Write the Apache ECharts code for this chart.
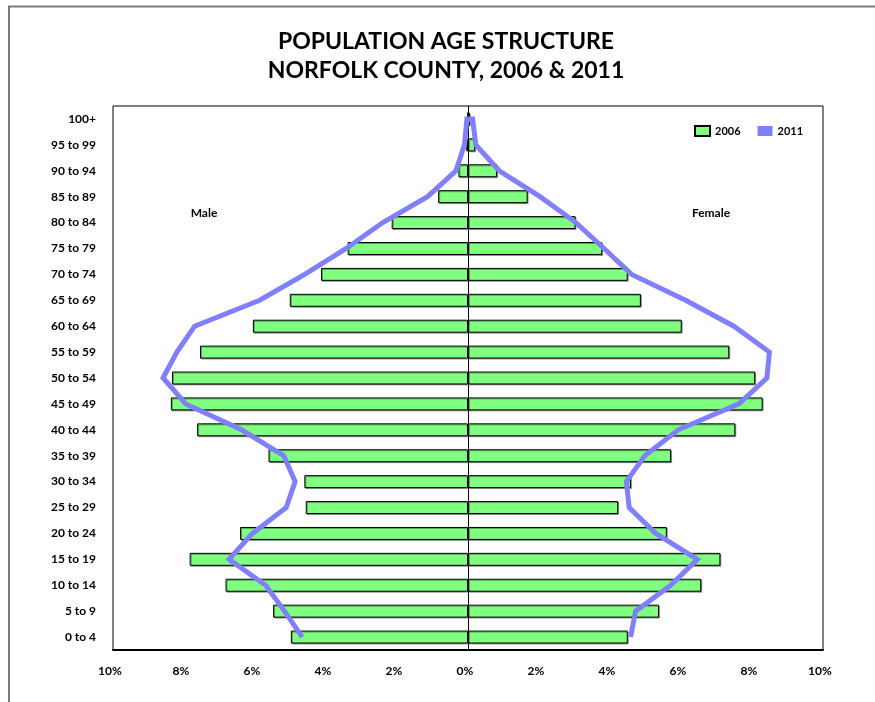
<!DOCTYPE html>
<html>
<head>
<meta charset="utf-8">
<title>Population Age Structure - Norfolk County</title>
<script src="https://cdn.jsdelivr.net/npm/echarts/dist/echarts.min.js"></script>
<style>
  html, body { margin: 0; padding: 0; background: #fff; }
  #pyramid { width: 875px; height: 702px; }
</style>
</head>
<body>
<div id="pyramid"></div>
<script>
// Age groups, bottom to top
var ageGroups = ["0 to 4", "5 to 9", "10 to 14", "15 to 19", "20 to 24", "25 to 29",
  "30 to 34", "35 to 39", "40 to 44", "45 to 49", "50 to 54", "55 to 59", "60 to 64",
  "65 to 69", "70 to 74", "75 to 79", "80 to 84", "85 to 89", "90 to 94", "95 to 99", "100+"];

// Share of population (%), 2006 bars
var male2006 = [4.99, 5.49, 6.83, 7.84, 6.42, 4.57, 4.61, 5.62, 7.63, 8.37, 8.34,
  7.55, 6.06, 5.02, 4.14, 3.39, 2.15, 0.84, 0.27, 0.05, 0.01];
var female2006 = [4.50, 5.38, 6.57, 7.11, 5.60, 4.23, 4.59, 5.72, 7.53, 8.30, 8.09,
  7.36, 6.02, 4.87, 4.50, 3.78, 3.03, 1.68, 0.82, 0.20, 0.05];

// Share of population (%), 2011 outline
var male2011 = [4.67, 5.17, 5.70, 6.73, 6.07, 5.12, 4.87, 5.19, 6.38, 7.95, 8.59,
  8.20, 7.70, 5.87, 4.60, 3.43, 2.40, 1.14, 0.34, 0.10, 0.03];
var female2011 = [4.58, 4.72, 5.71, 6.46, 5.29, 4.54, 4.46, 4.98, 5.92, 7.63, 8.42,
  8.49, 7.49, 6.13, 4.61, 3.83, 3.04, 2.03, 0.88, 0.22, 0.13];

// Axis ticks
var tickMin = -10, tickMax = 10, tickStep = 2;

var fontFamily = "Lato, 'DejaVu Sans', sans-serif";

var PyramidChart = (function () {
  var _pyramid = function () {
    if (typeof echarts == "undefined") {
      console.warn("Warning - echarts.min.js is not loaded.");
      return;
    }

    // Define element
    var pyramid_element = document.getElementById("pyramid");
    if (!pyramid_element) return;

    var pyramid = echarts.init(pyramid_element);

    // Male on the left (negative), female on the right
    var maleBars = male2006.map(function (v) { return -v; });

    // 2011 outline: up the male side, then down the female side
    var outline = [];
    male2011.forEach(function (v, i) { outline.push([-v, i]); });
    for (var i = female2011.length - 1; i >= 0; i--) {
      outline.push([female2011[i], i]);
    }

    // one polyline through every outline point, placed by the axes
    var renderOutline = function (params, api) {
      if (params.dataIndex !== 0) return;
      var pts = outline.map(function (p) { return api.coord(p); });
      return {
        type: "polyline",
        shape: { points: pts },
        style: { fill: null, stroke: "#8080ff", lineWidth: 5, lineJoin: "miter" },
        silent: true
      };
    };

    var barStyle = {
      color: "#80ff80",
      borderColor: "#000",
      borderWidth: 1,
      shadowColor: "rgba(0,0,0,0.35)",
      shadowOffsetX: 1,
      shadowOffsetY: 1,
      shadowBlur: 0
    };

    // Options
    pyramid.setOption({
      animation: false,
      textStyle: { fontFamily: fontFamily },

      grid: {
        left: 113,
        right: 52,
        top: 106,
        bottom: 52,
        show: true,
        borderColor: "#000",
        borderWidth: 1
      },

      legend: {
        left: 694,
        top: 125,
        padding: 0,
        itemWidth: 15,
        itemHeight: 10,
        itemGap: 17,
        textStyle: { color: "#000", fontWeight: "bold", fontSize: 11, fontFamily: fontFamily },
        data: [
          { name: "2006", icon: "rect" },
          { name: "2011", icon: "rect", itemStyle: { color: "#8080ff", borderWidth: 0 } }
        ]
      },

      graphic: [
        // page frame
        {
          type: "polyline",
          shape: { points: [[9, 702], [9, 6.5], [875, 6.5]] },
          style: { stroke: "#7a7a7a", lineWidth: 2, fill: null },
          silent: true
        },
        {
          type: "text",
          x: 446,
          y: 27,
          style: {
            text: "POPULATION AGE STRUCTURE\nNORFOLK COUNTY, 2006 & 2011",
            align: "center",
            font: "bold 23px " + fontFamily,
            lineHeight: 29,
            fill: "#000"
          }
        },
        {
          type: "text",
          x: 204,
          y: 213,
          style: { text: "Male", align: "center", verticalAlign: "middle", font: "bold 12px " + fontFamily, fill: "#000" }
        },
        {
          type: "text",
          x: 711,
          y: 213,
          style: { text: "Female", align: "center", verticalAlign: "middle", font: "bold 12px " + fontFamily, fill: "#000" }
        }
      ],

      // Horizontal axis
      xAxis: {
        type: "value",
        min: tickMin,
        max: tickMax,
        interval: tickStep,
        axisLine: { show: true, onZero: false, lineStyle: { color: "#000", width: 2 } },
        axisTick: { show: false },
        splitLine: { show: false },
        axisLabel: {
          color: "#000",
          fontWeight: "bold",
          fontSize: 12,
          margin: 15,
          padding: [0, 6, 0, 0],
          formatter: function (v) { return Math.abs(v) + "%"; }
        }
      },

      // Vertical axis
      yAxis: {
        type: "category",
        data: ageGroups,
        axisLine: { show: false },
        axisTick: { show: false },
        splitLine: { show: false },
        axisLabel: { color: "#000", fontWeight: "bold", fontSize: 12, margin: 17 }
      },

      series: [
        {
          name: "2006",
          type: "bar",
          stack: "pop",
          barWidth: "50%",
          itemStyle: barStyle,
          data: maleBars,
          markLine: {
            silent: true,
            symbol: "none",
            label: { show: false },
            lineStyle: { color: "#000", width: 1, type: "solid" },
            data: [{ xAxis: 0 }]
          }
        },
        {
          name: "2006",
          type: "bar",
          stack: "pop",
          barWidth: "50%",
          itemStyle: barStyle,
          data: female2006
        },
        {
          name: "2011",
          type: "custom",
          z: 5,
          clip: true,
          itemStyle: { color: "#8080ff" },
          encode: { x: 0, y: 1 },
          renderItem: renderOutline,
          data: outline
        }
      ]
    });
  };

  return {
    init: function () {
      _pyramid();
    }
  };
})();

document.addEventListener("DOMContentLoaded", function () {
  PyramidChart.init();
});
</script>
</body>
</html>
